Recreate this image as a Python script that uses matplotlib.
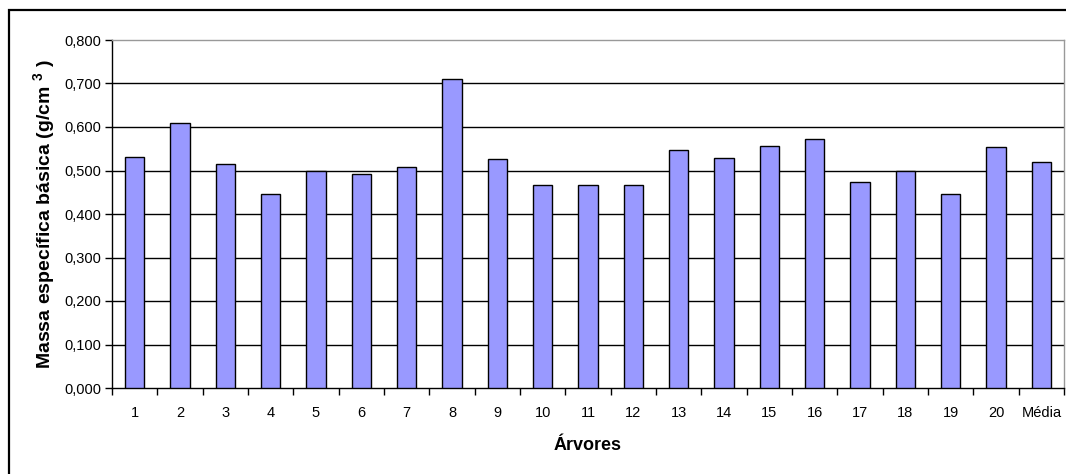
import numpy as np
import matplotlib
matplotlib.use("Agg")
import matplotlib.pyplot as plt
from matplotlib.ticker import FuncFormatter, FixedLocator
from matplotlib.patches import Rectangle

plt.rcParams['font.family'] = ['Liberation Sans', 'DejaVu Sans']
plt.rcParams['mathtext.fontset'] = 'custom'
plt.rcParams['mathtext.rm'] = 'Liberation Sans'
plt.rcParams['mathtext.bf'] = 'Liberation Sans:bold'

categories = [str(i) for i in range(1, 21)] + ["Média"]
densidade = [0.530, 0.610, 0.516, 0.446, 0.498, 0.491, 0.509, 0.711, 0.526, 0.466,
             0.466, 0.466, 0.547, 0.529, 0.557, 0.572, 0.474, 0.498, 0.446, 0.554,
             0.519]

fig = plt.figure(figsize=(10.66, 4.74), dpi=100)
ax = fig.add_axes([112 / 1066, 1 - 388 / 474, 952 / 1066, 348 / 474])

# outer chart frame (partly outside the canvas on the right and bottom)
frame = Rectangle((9 / 1066, -0.05), 1.2, 1 - 10 / 474 + 0.05,
                  transform=fig.transFigure, fill=False, edgecolor='black',
                  linewidth=1.6, zorder=0)
fig.patches.append(frame)

x = np.arange(len(categories))
ax.bar(x, densidade, width=0.42, color='#9999FF', edgecolor='black',
       linewidth=1.0, zorder=3)

ax.set_xlim(-0.5, len(categories) - 0.5)
ax.set_ylim(0, 0.8)
ax.set_yticks(np.arange(0, 0.81, 0.1))
ax.yaxis.set_major_formatter(FuncFormatter(lambda v, p: f"{v:.3f}".replace('.', ',')))

# category boundaries carry the ticks, centres carry the labels
ax.xaxis.set_major_locator(FixedLocator(np.arange(-0.5, len(categories), 1.0)))
ax.xaxis.set_major_formatter(FuncFormatter(lambda v, p: ""))
ax.xaxis.set_minor_locator(FixedLocator(x))
ax.set_xticklabels(categories, minor=True)
ax.tick_params(axis='x', which='major', direction='out', length=5, width=1, color='black')
ax.tick_params(axis='x', which='minor', length=0, pad=13, labelsize=10.5)
ax.tick_params(axis='y', direction='out', length=5, width=1, labelsize=10.5, pad=3)

for v in np.arange(0.1, 0.75, 0.1):
    ax.axhline(v, color='black', linewidth=1.0, zorder=1)

ax.spines['left'].set_color('black')
ax.spines['bottom'].set_color('black')
ax.spines['top'].set_color('#999999')
ax.spines['right'].set_color('#999999')
for s in ax.spines.values():
    s.set_linewidth(1.0)

ax.set_ylabel(r"Massa específica básica (g/cm $^{\mathbf{3}}$ )", fontsize=14,
              fontweight='bold', labelpad=4)
ax.set_xlabel("Árvores", fontsize=13, fontweight='bold', labelpad=12)

fig.savefig("out.png", dpi=100)
